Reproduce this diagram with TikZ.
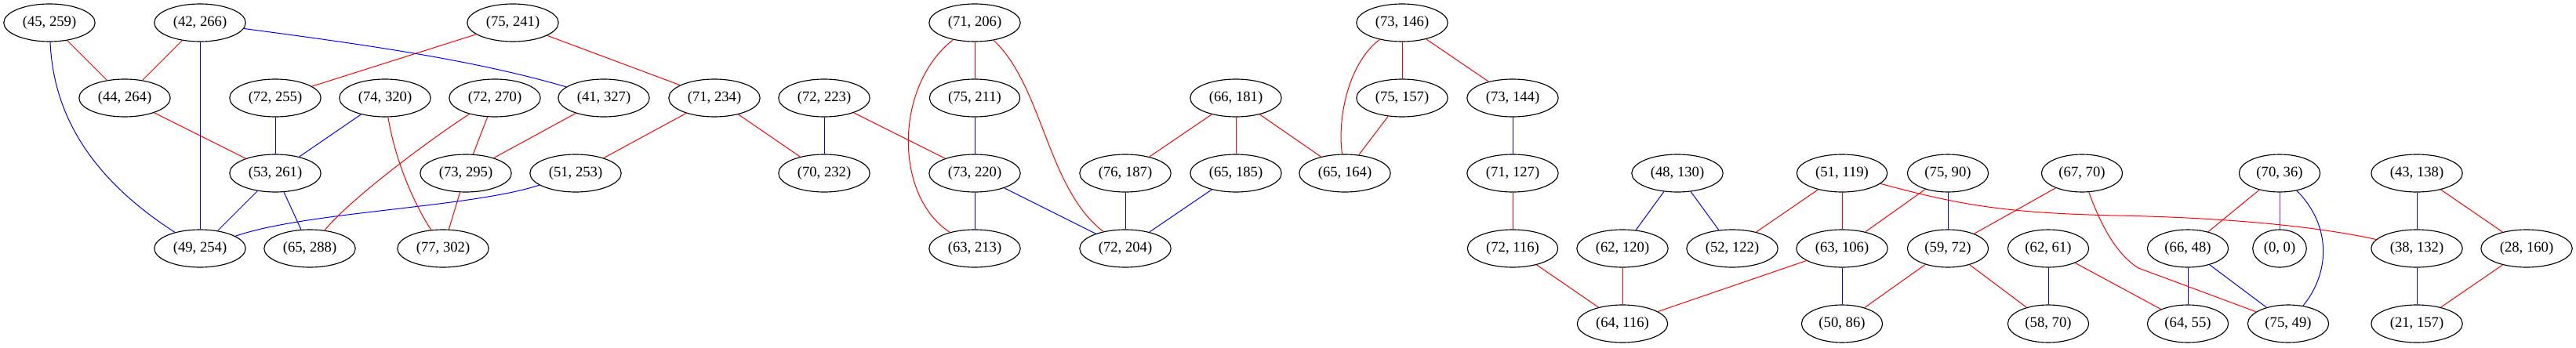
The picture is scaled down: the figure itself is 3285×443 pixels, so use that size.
\documentclass[tikz,border=0pt]{standalone}
\usepackage{fontspec}
\setmainfont{Liberation Serif}
\usetikzlibrary{shapes.geometric}
\definecolor{gvpurple}{RGB}{160,32,240}
\tikzset{
    vertex/.style={draw, ellipse, line width=0.85pt, minimum height=36pt,
        inner xsep=5.2pt, inner ysep=0pt, font=\fontsize{14}{16}\selectfont},
    redge/.style={draw=red, line width=0.75pt},
    bedge/.style={draw=blue, line width=0.75pt},
    pedge/.style={draw=gvpurple, line width=0.75pt}
}

\begin{document}
\begin{tikzpicture}[x=0.75pt, y=-0.75pt]
    \useasboundingbox (0,0) rectangle (3285,443);

    % Rank 1
    \foreach \a/\b/\x in {45/259/63, 42/266/255, 75/241/654, 71/206/1243, 73/146/1788}
        \node [vertex] (n\a-\b) at (\x, 29) {(\a, \b)};

    % Rank 2
    \foreach \a/\b/\x in {44/264/159, 72/255/351, 74/320/491, 72/270/631, 41/327/770,
        71/234/911, 72/223/1051, 75/211/1243, 66/181/1576, 75/157/1788, 73/144/1929}
        \node [vertex] (n\a-\b) at (\x, 125) {(\a, \b)};

    % Rank 3
    \foreach \a/\b/\x in {53/261/351, 73/295/594, 51/253/734, 70/232/1051, 73/220/1243,
        76/187/1435, 65/185/1576, 65/164/1715, 71/127/1929, 48/130/2139, 51/119/2349,
        75/90/2484, 67/70/2655, 70/36/2907, 43/138/3082}
        \node [vertex] (n\a-\b) at (\x, 221) {(\a, \b)};

    % Rank 4
    \foreach \a/\b/\x in {49/254/255, 65/288/395, 77/302/565, 63/213/1243, 72/204/1435,
        72/116/1929, 62/120/2069, 52/122/2209, 63/106/2349, 59/72/2484, 62/61/2612,
        66/48/2790, 38/132/3082, 28/160/3222}
        \node [vertex] (n\a-\b) at (\x, 317) {(\a, \b)};
    \node [vertex, inner xsep=3pt] (n0-0) at (2907, 317) {(0, 0)};

    % Rank 5
    \foreach \a/\b/\x in {64/116/2069, 50/86/2349, 58/70/2612, 64/55/2790, 75/49/2918, 21/157/3082}
        \node [vertex] (n\a-\b) at (\x, 413) {(\a, \b)};

    % Red edges
    \foreach \s/\t in {n45-259/n44-264, n42-266/n44-264, n75-241/n72-255, n75-241/n71-234,
        n44-264/n53-261, n72-270/n73-295, n41-327/n73-295, n71-234/n51-253, n71-234/n70-232,
        n73-295/n77-302, n72-223/n73-220, n71-206/n75-211, n66-181/n76-187, n66-181/n65-185,
        n66-181/n65-164, n73-146/n75-157, n73-146/n73-144, n75-157/n65-164, n71-127/n72-116,
        n72-116/n64-116, n62-120/n64-116, n51-119/n52-122, n51-119/n63-106, n75-90/n63-106,
        n63-106/n64-116, n59-72/n50-86, n59-72/n58-70, n67-70/n59-72, n62-61/n64-55,
        n70-36/n66-48, n43-138/n28-160, n28-160/n21-157}
        \draw [redge] (\s) -- (\t);

    % Blue edges
    \foreach \s/\t in {n42-266/n49-254, n72-255/n53-261, n74-320/n53-261, n53-261/n49-254,
        n53-261/n65-288, n72-223/n70-232, n75-211/n73-220, n73-220/n63-213, n73-220/n72-204,
        n76-187/n72-204, n65-185/n72-204, n73-144/n71-127, n48-130/n62-120, n48-130/n52-122,
        n75-90/n59-72, n63-106/n50-86, n62-61/n58-70, n66-48/n64-55, n66-48/n75-49,
        n43-138/n38-132, n38-132/n21-157}
        \draw [bedge] (\s) -- (\t);

    \draw [pedge] (n70-36) -- (n0-0);

    % Curved edges
    \draw [bedge] (n45-259) .. controls (68,150) and (120,230) .. (n49-254);
    \draw [bedge] (n42-266) .. controls (450,55) and (600,75) .. (n41-327);
    \draw [bedge] (n51-253) .. controls (600,265) and (390,270) .. (n49-254);
    \draw [redge] (n74-320) .. controls (503,200) and (525,255) .. (n77-302);
    \draw [redge] (n72-270) .. controls (560,170) and (450,250) .. (n65-288);
    \draw [redge] (n71-206) .. controls (1140,110) and (1140,250) .. (n63-213);
    \draw [redge] (n71-206) .. controls (1330,110) and (1335,240) .. (n72-204);
    \draw [redge] (n73-146) .. controls (1720,80) and (1705,150) .. (n65-164);
    \draw [redge] (n51-119) .. controls (2500,262) and (2560,272) .. (2700,275)
        .. controls (2850,278) and (2960,290) .. (n38-132);
    \draw [redge] (n67-70) .. controls (2680,290) and (2700,325) .. (2727,342) -- (n75-49);
    \draw [bedge] (n70-36) .. controls (2975,290) and (2970,350) .. (n75-49);
\end{tikzpicture}
\end{document}
